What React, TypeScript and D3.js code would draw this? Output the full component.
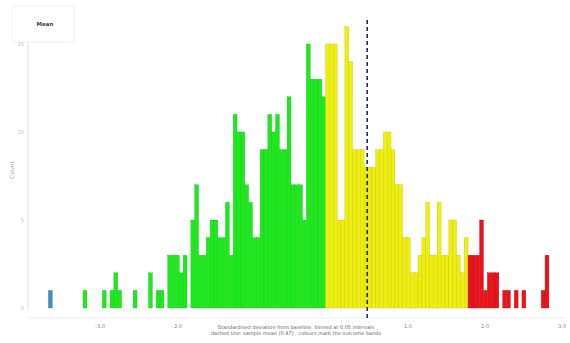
import React from "react";
import * as d3 from "d3";

// Histogram of observations, binned at 0.05 intervals starting at binStart.
const binStart = -3.72;
const binWidth = 0.05;
const counts = [
  0, 1, 0, 0, 0, 0, 0, 0, 0, 0,
  1, 0, 0, 0, 0, 1, 0, 1, 2, 1,
  0, 0, 0, 1, 0, 0, 0, 2, 0, 1,
  1, 0, 3, 3, 3, 2, 3, 0, 5, 7,
  3, 3, 4, 5, 5, 4, 4, 6, 3, 11,
  10, 10, 7, 6, 4, 4, 9, 9, 11, 10,
  11, 9, 9, 12, 7, 7, 7, 5, 15, 13,
  13, 13, 12, 15, 15, 15, 5, 5, 16, 14,
  9, 9, 9, 8, 8, 8, 9, 9, 10, 10,
  9, 7, 7, 4, 4, 2, 2, 3, 4, 6,
  3, 3, 6, 3, 3, 5, 5, 3, 2, 4,
  3, 3, 3, 5, 1, 2, 2, 2, 0, 1,
  1, 0, 1, 0, 1, 0, 0, 0, 0, 1,
  3,
];

// Band limits (in x units) and the colour of each band.
const bandEdges = [-3.4, -0.08, 1.77];
const bandColors = ["#3d8fc4", "#1ee81e", "#eeee10", "#e8141c"];

const xTickValues = [-3, -2, -1, 0, 1, 2, 3];
const xTickLabels = ["-3.0", "-2.0", "-1.0", "0.0", "1.0", "2.0", "3.0"];
const yTickValues = [0, 5, 10, 15];
const meanValue = 0.47;

const legendLabel = "Mean";
const yTitle = "Count";
const xTitleLines = [
  "Standardised deviation from baseline, binned at 0.05 intervals",
  "dashed line: sample mean (0.47) · colours mark the outcome bands",
];

export default function App() {
  const width = 570;
  const height = 343;
  const baseY = 308;

  const x = d3.scaleLinear().domain([-3, 3]).range([100, 562]);
  const y = d3.scaleLinear().domain([0, 15]).range([baseY, 44]);
  const color = d3.scaleThreshold<number, string>().domain(bandEdges).range(bandColors);

  const bins = counts.map((c, i) => {
    const x0 = binStart + i * binWidth;
    return { x0, x1: x0 + binWidth, c };
  });

  // Caption sits in the middle of the axis; only outer ticks are labelled.
  const shownTicks = xTickValues
    .map((v, i) => ({ v, label: xTickLabels[i] }))
    .filter((t) => x(t.v) < 190 || x(t.v) > 400);

  return (
    <svg
      width={width}
      height={height}
      style={{ position: "absolute", left: 0, top: 0, background: "#fff" }}
      fontFamily="DejaVu Sans, sans-serif"
    >
      {/* legend */}
      <rect x={12} y={6} width={62} height={36} rx={4} fill="#fff" stroke="#f0f0f0" />
      <text x={45} y={26} fontSize={5.5} fontWeight="bold" fill="#444" textAnchor="middle">
        {legendLabel}
      </text>

      {/* y axis */}
      <line x1={28} x2={28} y1={42} y2={310} stroke="#e4e4e4" strokeWidth={1} />
      {yTickValues.map((v) => (
        <text key={v} x={24} y={y(v) + 2} fontSize={5} fill="#bbb" textAnchor="end">
          {v}
        </text>
      ))}
      <text
        transform={`translate(14,170) rotate(-90)`}
        fontSize={6}
        fill="#a8a8a8"
        textAnchor="middle"
      >
        {yTitle}
      </text>

      {/* bars */}
      {bins
        .filter((b) => b.c > 0)
        .map((b, i) => {
          const fill = color(b.x0 + binWidth / 2);
          return (
            <rect
              key={i}
              x={x(b.x0)}
              y={y(b.c)}
              width={x(b.x1) - x(b.x0)}
              height={baseY - y(b.c)}
              fill={fill}
              stroke={d3.color(fill)!.darker(0.5).formatHex()}
              strokeWidth={0.35}
            />
          );
        })}

      {/* x axis */}
      <line x1={28} x2={565} y1={318} y2={318} stroke="#f2eaf2" strokeWidth={1} />
      {shownTicks.map((t) => (
        <text key={t.v} x={x(t.v)} y={328} fontSize={5} fill="#888" textAnchor="middle">
          {t.label}
        </text>
      ))}
      {xTitleLines.map((line, i) => (
        <text key={i} x={296} y={329 + i * 6} fontSize={5} fill="#666" textAnchor="middle">
          {line}
        </text>
      ))}

      {/* mean marker */}
      <line
        x1={x(meanValue)}
        x2={x(meanValue)}
        y1={20}
        y2={320}
        stroke="#26266e"
        strokeWidth={1.6}
        strokeDasharray="4,3"
      />
    </svg>
  );
}
